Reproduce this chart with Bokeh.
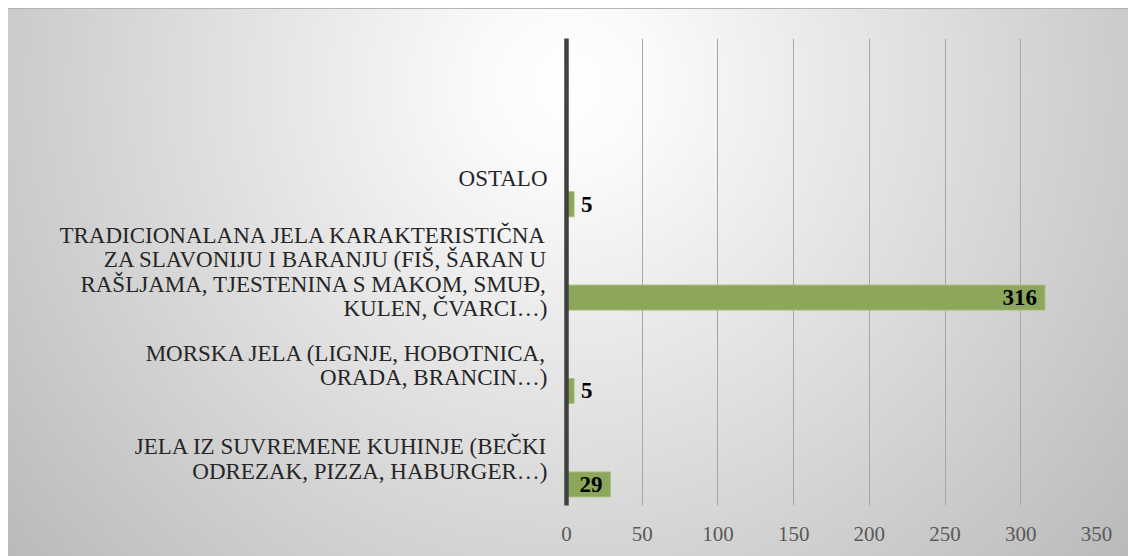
from bokeh.plotting import figure
from bokeh.models import ColumnDataSource, FactorRange, Range1d
from bokeh.transform import dodge
from bokeh.core.properties import value
from bokeh.embed import file_html
from bokeh.resources import INLINE

# ---- data (top to bottom as shown) ----
categories = [
    "OSTALO",
    "TRADICIONALANA JELA KARAKTERISTIČNA\nZA SLAVONIJU I BARANJU (FIŠ, ŠARAN U\nRAŠLJAMA, TJESTENINA S MAKOM, SMUĐ,\nKULEN, ČVARCI…)",
    "MORSKA JELA (LIGNJE, HOBOTNICA,\nORADA, BRANCIN…)",
    "JELA IZ SUVREMENE KUHINJE (BEČKI\nODREZAK, PIZZA, HABURGER…)",
]
counts = [5, 316, 5, 29]
x_ticks = [0, 50, 100, 150, 200, 250, 300, 350]

labels = [str(v) for v in counts]
aligns = ["right" if v > 20 else "left" for v in counts]
offsets = [-8 if v > 20 else 7 for v in counts]

source = ColumnDataSource(dict(cat=categories, val=counts, lab=labels,
                               align=aligns, off=offsets))

factors = list(reversed(categories)) + [" "]

SERIF = "Liberation Serif"

p = figure(
    width=1120, height=548,
    y_range=FactorRange(factors=factors, range_padding=0),
    x_range=Range1d(0, 350),
    output_backend="svg", toolbar_location=None,
    min_border_left=558, min_border_right=32,
    min_border_top=30, min_border_bottom=51,
)

p.styles = {
    "margin-left": "8px",
    "margin-top": "8px",
    "background": "radial-gradient(circle farthest-corner at 50% 14%, #ffffff 0%, #fafafa 12%, #bababa 100%)",
    "box-shadow": "inset 0 1px 0 #b5b5b5",
}
p.border_fill_alpha = 0
p.background_fill_alpha = 0
p.outline_line_color = None

p.hbar(y=dodge("cat", -0.274, range=p.y_range), right="val", left=0,
       height=0.268, source=source,
       fill_color="#8ca75c", line_color="#a8c07c", line_width=1)

p.text(x="val", y=dodge("cat", -0.274, range=p.y_range), text="lab",
       source=source, text_align="align", x_offset="off",
       text_baseline="middle", text_font=value(SERIF),
       text_font_style="bold", text_font_size="23px", text_color="#000000")

# x axis
p.xaxis.ticker = x_ticks
p.xaxis.axis_line_color = None
p.xaxis.major_tick_line_color = None
p.xaxis.major_tick_out = 0
p.xaxis.major_tick_in = 0
p.xaxis.minor_tick_line_color = None
p.xaxis.major_label_standoff = 21
p.xaxis.major_label_text_font = SERIF
p.xaxis.major_label_text_font_size = "21px"
p.xaxis.major_label_text_color = "#595959"

# y axis
p.yaxis.axis_line_color = "#404040"
p.yaxis.axis_line_width = 4.5
p.yaxis.major_tick_line_color = None
p.yaxis.major_tick_out = 0
p.yaxis.major_tick_in = 0
p.yaxis.minor_tick_line_color = None
p.yaxis.major_label_standoff = 19
p.yaxis.major_label_text_font = SERIF
p.yaxis.major_label_text_font_size = "23px"
p.yaxis.major_label_text_color = "#262626"
p.yaxis.major_label_text_line_height = 0.98

p.xgrid.grid_line_color = "#a6a6a6"
p.xgrid.grid_line_width = 1
p.xgrid.ticker = x_ticks
p.ygrid.grid_line_color = None

open("out.html", "w").write(file_html(p, INLINE))
